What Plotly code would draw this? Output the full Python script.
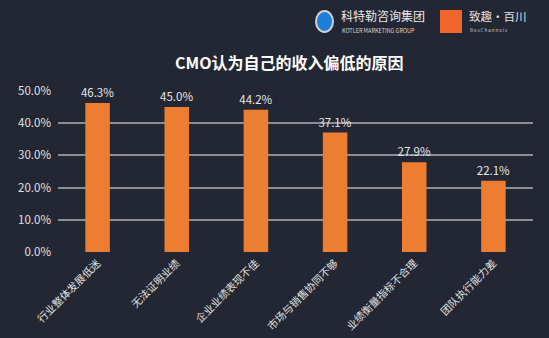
import plotly.graph_objects as go

categories = ["行业整体发展低迷", "无法证明业绩", "企业业绩表现不佳", "市场与销售协同不够", "业绩衡量指标不合理", "团队执行能力差"]
values = [0.463, 0.450, 0.442, 0.371, 0.279, 0.221]
tick_vals = [0, 0.1, 0.2, 0.3, 0.4, 0.5]
tick_text = ["0.0%", "10.0%", "20.0%", "30.0%", "40.0%", "50.0%"]

BG = "#232733"
FONT = "Noto Sans CJK SC"

fig = go.Figure(go.Bar(
    x=categories, y=values, width=0.31,
    marker=dict(color="#ED7D31", line=dict(width=0)),
    text=[f"{v*100:.1f}%" for v in values], textposition="outside",
    constraintext="none",
    textfont=dict(color="#e6e6e6", size=11.5, family=FONT),
    cliponaxis=False,
))

fig.update_layout(
    width=549, height=338, paper_bgcolor=BG, plot_bgcolor=BG,
    margin=dict(l=58, r=16, t=91, b=86, autoexpand=False),
    showlegend=False,
    font=dict(family=FONT, color="#e0e0e0"),
    xaxis=dict(tickangle=-45, tickfont=dict(size=10.5, color="#e0e0e0"), showgrid=False,
               showline=False, ticks="", automargin=False, ticklabelstandoff=2),
    yaxis=dict(range=[0, 0.5], tickvals=tick_vals, ticktext=tick_text, showgrid=True,
               gridcolor="#8a8d94", gridwidth=1.5, zeroline=False, automargin=False,
               tickfont=dict(size=11.5, color="#e0e0e0"), ticks="", ticklabelstandoff=6),
    bargap=0.69,
)

ph = 338 - 91 - 86

def py(pix):
    return (338 - 86 - pix) / ph

def px(pix):
    return (pix - 58) / (549 - 58 - 16)

fig.add_annotation(text="<b>CMO认为自己的收入偏低的原因</b>", x=px(289), y=py(62), xref="paper", yref="paper",
                   yanchor="middle", showarrow=False, font=dict(size=16, color="#ffffff", family=FONT))

# logos
fig.add_shape(type="circle", xref="paper", yref="paper", x0=px(316), x1=px(333), y0=py(32), y1=py(11),
              fillcolor="#1a7fd6", line=dict(color="#d0d0d0", width=2))
fig.add_annotation(text="科特勒咨询集团", x=px(339), y=py(16), xref="paper", yref="paper", xanchor="left",
                   yanchor="middle", showarrow=False, font=dict(size=12, color="#e8e8e8", family=FONT))
fig.add_annotation(text="KOTLER MARKETING GROUP", x=px(340), y=py(31), xref="paper", yref="paper", xanchor="left",
                   yanchor="middle", showarrow=False, font=dict(size=5.5, color="#d8d8d8", family=FONT))
fig.add_shape(type="rect", xref="paper", yref="paper", x0=px(440), x1=px(462), y0=py(33), y1=py(10),
              fillcolor="#f0652a", line=dict(width=0))
fig.add_annotation(text="致趣·百川", x=px(467), y=py(16), xref="paper", yref="paper", xanchor="left",
                   yanchor="middle", showarrow=False, font=dict(size=11.5, color="#e0e0e0", family=FONT))
fig.add_annotation(text="B e s C h a n n e l s", x=px(468), y=py(30), xref="paper", yref="paper", xanchor="left",
                   yanchor="middle", showarrow=False, font=dict(size=4.5, color="#d0d0d0", family=FONT))

fig.write_html("out.html")
